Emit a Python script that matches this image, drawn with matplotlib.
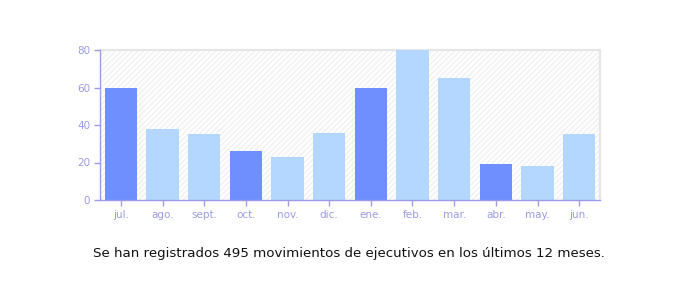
import matplotlib.pyplot as plt
import numpy as np

# Datos: movimientos de ejecutivos por mes
meses = ["jul.", "ago.", "sept.", "oct.", "nov.", "dic.",
         "ene.", "feb.", "mar.", "abr.", "may.", "jun."]
valores = [60, 38, 35, 26, 23, 36, 60, 80, 65, 19, 18, 35]
inicio_trimestre = [True, False, False, True, False, False,
                    True, False, False, True, False, False]

OSCURO = "#6f8fff"
CLARO = "#b3d7ff"
EJE = "#9b9be6"

fig = plt.figure(figsize=(7, 3), dpi=100)
ax = fig.add_axes([100 / 700, 1 - 200 / 300, 500 / 700, 150 / 300])

# Fondo rayado suave
ax.add_patch(plt.Rectangle((0, 0), 1, 1, transform=ax.transAxes,
                           facecolor="white", edgecolor="#f0f0f0",
                           hatch="//////", linewidth=0, zorder=0))

x = np.arange(len(meses))
colores = [OSCURO if q else CLARO for q in inicio_trimestre]
ax.bar(x, valores, width=0.77, color=colores, zorder=3)

ax.set_xlim(-0.5, len(meses) - 0.5)
ax.set_ylim(0, 80)
ax.set_yticks([0, 20, 40, 60, 80])
ax.set_xticks(x)
ax.set_xticklabels(meses)

for lado in ["left", "bottom"]:
    ax.spines[lado].set_color(EJE)
    ax.spines[lado].set_linewidth(1)
    ax.spines[lado].set_zorder(4)
for lado in ["top", "right"]:
    ax.spines[lado].set_color("#e6e6e6")
    ax.spines[lado].set_linewidth(1.5)
    ax.spines[lado].set_zorder(1)

ax.tick_params(colors=EJE, labelsize=7.5, length=4, width=1, pad=3)

fig.text(349 / 700, 1 - 254 / 300,
         "Se han registrados 495 movimientos de ejecutivos en los últimos 12 meses.",
         ha="center", va="center", fontsize=9.6, color="#111111")

fig.savefig("out.png", dpi=100)
